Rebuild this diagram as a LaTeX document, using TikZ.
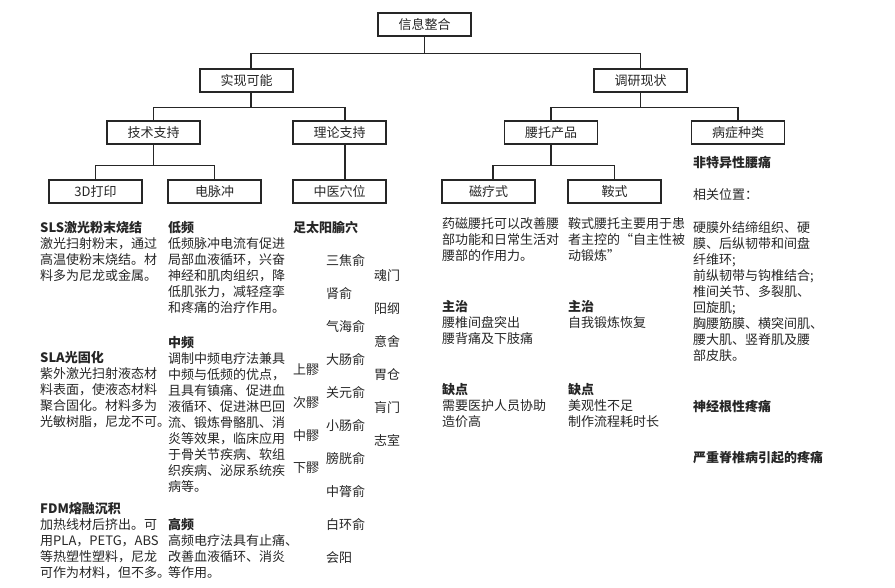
\documentclass[tikz,border=0pt]{standalone}
\usepackage{fontspec}
\setmainfont{Noto Sans CJK SC}
\definecolor{ink}{HTML}{262626}

\tikzset{
  box/.style={draw=ink, line width=1.1pt, minimum width=93pt, minimum height=23pt,
    inner sep=0pt, text=ink, font=\fontsize{13}{16}\selectfont},
  link/.style={draw=ink, line width=1.1pt},
  txt/.style={anchor=north west, inner sep=0pt, align=left, text=ink,
    font=\fontsize{13}{16}\selectfont},
  item/.style={anchor=west, inner sep=0pt, text=ink, font=\fontsize{13}{16}\selectfont},
  head/.style={item, font=\fontsize{13}{16}\selectfont\bfseries}
}

\begin{document}
\begin{tikzpicture}[x=1pt,y=-1pt]
\useasboundingbox (0,0) rectangle (895,588);

% tree
\node[box] (info) at (424.5,24.5) {信息整合};
\node[box] (real) at (246.5,80.5) {实现可能};
\node[box] (survey) at (640.5,80.5) {调研现状};
\node[box] (tech) at (153.5,132.5) {技术支持};
\node[box] (theory) at (339.5,132.5) {理论支持};
\node[box] (belt) at (551,132.5) {腰托产品};
\node[box] (disease) at (738,132.5) {病症种类};
\node[box] (print) at (95.5,191.5) {3D打印};
\node[box] (pulse) at (214.5,191.5) {电脉冲};
\node[box] (acu) at (339.5,191.5) {中医穴位};
\node[box] (magnet) at (488.5,191.5) {磁疗式};
\node[box] (saddle) at (614.5,191.5) {鞍式};

\draw[link] (info.south) -- ++(0,17) -| ([xshift=4.5pt]real.north);
\draw[link] (info.south) -- ++(0,17) -| (survey.north);
\draw[link] ([xshift=4.5pt]real.south) -- ++(0,15) -| (tech.north);
\draw[link] ([xshift=4.5pt]real.south) -- ++(0,15) -| ([xshift=5.5pt]theory.north);
\draw[link] (survey.south) -- ++(0,15) -| (belt.north);
\draw[link] (survey.south) -- ++(0,15) -| (disease.north);
\draw[link] (tech.south) -- ++(0,21) -| (print.north);
\draw[link] (tech.south) -- ++(0,21) -| (pulse.north);
\draw[link] ([xshift=5.5pt]theory.south) -- ([xshift=5.5pt]acu.north);
\draw[link] (belt.south) -- ++(0,21) -| ([xshift=4.5pt]magnet.north);
\draw[link] (belt.south) -- ++(0,21) -| (saddle.north);

% 3D打印
\node[txt] (sls) at (40,221.5) {\textbf{SLS激光粉末烧结}\\激光扫射粉末，通过\\高温使粉末烧结。材\\料多为尼龙或金属。};
\node[txt] (sla) at (40,351.5) {\textbf{SLA光固化}\\紫外激光扫射液态材\\料表面，使液态材料\\聚合固化。材料多为\\光敏树脂，尼龙不可。};
\node[txt] (fdm) at (40,502.5) {\textbf{FDM熔融沉积}\\加热线材后挤出。可\\用PLA，PETG，ABS\\等热塑性塑料，尼龙\\可作为材料，但不多。};

% 电脉冲
\node[txt] (low) at (168,221.5) {\textbf{低频}\\低频脉冲电流有促进\\局部血液循环，兴奋\\神经和肌肉组织，降\\低肌张力，减轻痉挛\\和疼痛的治疗作用。};
\node[txt] (mid) at (168,336.5) {\textbf{中频}\\调制中频电疗法兼具\\中频与低频的优点，\\且具有镇痛、促进血\\液循环、促进淋巴回\\流、锻炼骨骼肌、消\\炎等效果，临床应用\\于骨关节疾病、软组\\织疾病、泌尿系统疾\\病等。};
\node[txt] (high) at (168,518.5) {\textbf{高频}\\高频电疗法具有止痛、\\改善血液循环、消炎\\等作用。};

% 中医穴位
\node[head] (zuti) at (293,228) {足太阳腧穴};
\foreach \t [count=\i] in {上髎,次髎,中髎,下髎}
  \node[item] (liao\i) at (293,370+32.7*\i-32.7) {\t};
\foreach \t [count=\i] in {三焦俞,肾俞,气海俞,大肠俞,关元俞,小肠俞,膀胱俞,中膂俞,白环俞,会阳}
  \node[item] (shu\i) at (326,261+32.9*\i-32.9) {\t};
\foreach \t [count=\i] in {魂门,阳纲,意舍,胃仓,肓门,志室}
  \node[item] (men\i) at (374,276+32.8*\i-32.8) {\t};

% 腰托产品
\node[txt] (magtxt) at (442,217.5) {药磁腰托可以改善腰\\部功能和日常生活对\\腰部的作用力。};
\node[txt] (magcure) at (442,300.5) {\textbf{主治}\\腰椎间盘突出\\腰背痛及下肢痛};
\node[txt] (magbad) at (442,383.5) {\textbf{缺点}\\需要医护人员协助\\造价高};
\node[txt] (sadtxt) at (568,217.5) {鞍式腰托主要用于患\\者主控的“自主性被\\动锻炼”};
\node[txt] (sadcure) at (568,300.5) {\textbf{主治}\\自我锻炼恢复};
\node[txt] (sadbad) at (568,383.5) {\textbf{缺点}\\美观性不足\\制作流程耗时长};

% 病症种类
\node[head] (nonspec) at (693,162) {非特异性腰痛};
\node[item] (where) at (693,195) {相关位置：};
\node[txt] (parts) at (693,221.5) {硬膜外结缔组织、硬\\膜、后纵韧带和间盘\\纤维环;\\前纵韧带与钩椎结合;\\椎间关节、多裂肌、\\回旋肌;\\胸腰筋膜、横突间肌、\\腰大肌、竖脊肌及腰\\部皮肤。};
\node[head] (nerve) at (693,407) {神经根性疼痛};
\node[head] (spine) at (693,458) {严重脊椎病引起的疼痛};
\end{tikzpicture}
\end{document}
